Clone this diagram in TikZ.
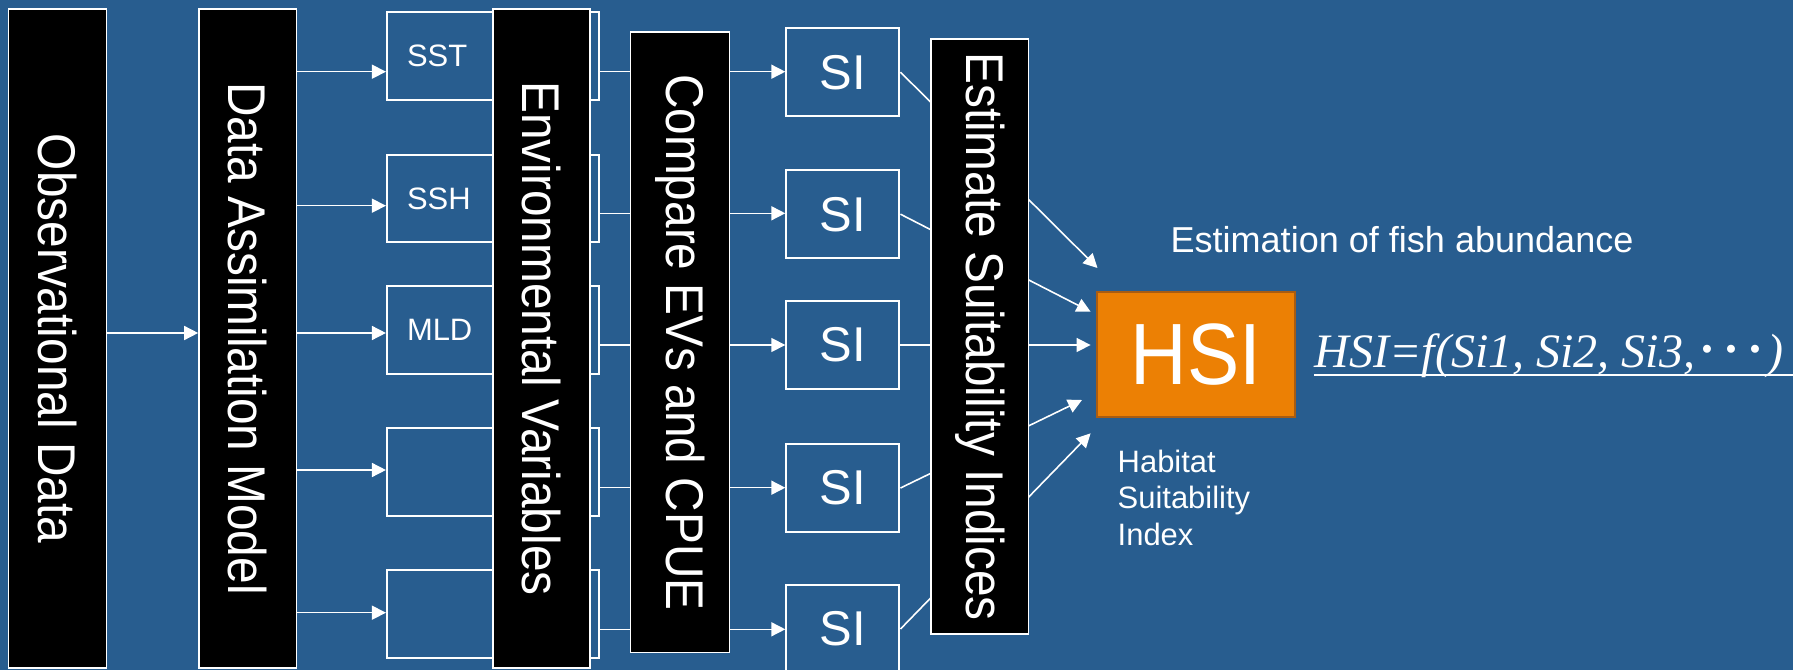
\documentclass[tikz,border=0pt]{standalone}
\usepackage{fontspec}
\setmainfont{Liberation Sans}
\newfontfamily\narrowsans{Liberation Sans}[FakeStretch=0.9]
\newfontfamily\formulafont{Liberation Serif}
\newfontfamily\cjk{Noto Sans CJK JP}
\usepackage{graphicx}
\usetikzlibrary{arrows.meta}
\definecolor{seablue}{RGB}{40,93,143}
\definecolor{hsiorange}{RGB}{236,128,4}
\definecolor{hsiedge}{RGB}{168,92,18}

\begin{document}
\begin{tikzpicture}[x=0.01cm, y=-0.01cm,
  stage/.style={draw=white, fill=black, line width=0.45pt, text=white, minimum width=0.98cm, inner sep=0pt, font=\narrowsans\fontsize{15.1}{18}\selectfont},
  varbox/.style={draw=white, line width=0.6pt, text=white, minimum height=0.877cm, text width=1.723cm, inner xsep=0.2cm, inner ysep=0pt, align=left, font=\fontsize{8.8}{10}\selectfont},
  sibox/.style={draw=white, line width=0.6pt, text=white, minimum width=1.13cm, minimum height=0.88cm, inner sep=0pt, font=\fontsize{13.9}{16}\selectfont},
  flow/.style={draw=white, line width=0.45pt, -{Triangle[length=0.14cm, width=0.14cm]}},
  link/.style={draw=white, line width=0.45pt}
]
\useasboundingbox (0,0) rectangle (1793,670);
\fill[seablue] (0,0) rectangle (1793,670);

% rows of the arrows
\coordinate (a1) at (0,71.7);
\coordinate (a2) at (0,205.7);
\coordinate (a3) at (0,333);
\coordinate (a4) at (0,470);
\coordinate (a5) at (0,612.7);
\coordinate (b1) at (0,71.7);
\coordinate (b2) at (0,213.3);
\coordinate (b3) at (0,345);
\coordinate (b4) at (0,487.7);
\coordinate (b5) at (0,629.3);

\node[stage, minimum height=6.59cm] (obs) at (57.4,338.5) {\rotatebox{-90}{Observational Data}};
\node[stage, minimum height=6.59cm, minimum width=0.976cm] (da) at (247.8,338.5) {\rotatebox{-90}{Data Assimilation Model}};

\draw[flow] (obs.east |- a3) -- (da.west |- a3);

\node[varbox] (v1) at (493.2,56.2) {SST};
\node[varbox] (v2) at (493.2,198.5) {SSH};
\node[varbox] (v3) at (493.2,329.9) {MLD};
\node[varbox] (v4) at (493.2,472.2) {};
\node[varbox] (v5) at (493.2,613.9) {};

\draw[flow] (da.east |- a1) -- (v1.west |- a1);
\draw[flow] (da.east |- a2) -- (v2.west |- a2);
\draw[flow] (da.east |- a3) -- (v3.west |- a3);
\draw[flow] (da.east |- a4) -- (v4.west |- a4);
\draw[flow] (da.east |- a5) -- (v5.west |- a5);

\node[stage, minimum height=6.59cm, minimum width=0.97cm] (ev) at (541.5,338.5) {\rotatebox{-90}{Environmental Variables}};
\node[stage, minimum height=6.20cm, minimum width=0.987cm] (cmp) at (680,342.3) {\rotatebox{-90}{Compare EVs and CPUE}};

\draw[link] (v1.east |- b1) -- (cmp.west |- b1);
\draw[link] (v2.east |- b2) -- (cmp.west |- b2);
\draw[link] (v3.east |- b3) -- (cmp.west |- b3);
\draw[link] (v4.east |- b4) -- (cmp.west |- b4);
\draw[link] (v5.east |- b5) -- (cmp.west |- b5);

\node[sibox] (s1) at (842.9,72.2) {SI};
\node[sibox] (s2) at (842.9,214.2) {SI};
\node[sibox] (s3) at (842.9,345) {SI};
\node[sibox] (s4) at (842.9,488) {SI};
\node[sibox] (s5) at (842.9,629) {SI};

\draw[flow] (cmp.east |- b1) -- (s1.west |- b1);
\draw[flow] (cmp.east |- b2) -- (s2.west |- b2);
\draw[flow] (cmp.east |- b3) -- (s3.west |- b3);
\draw[flow] (cmp.east |- b4) -- (s4.west |- b4);
\draw[flow] (cmp.east |- b5) -- (s5.west |- b5);

\node[draw=hsiedge, fill=hsiorange, line width=0.6pt, minimum width=1.977cm, minimum height=1.25cm, text=white, font=\narrowsans\fontsize{24.75}{28}\selectfont] (hsi) at (1196.2,354.2) {HSI};

\coordinate (h1) at (1097.5,268);
\coordinate (h2) at (1090.6,311.7);
\coordinate (h3) at (1090.6,345);
\coordinate (h4) at (1082,400);
\coordinate (h5) at (1090.6,433.3);

\draw[flow] (s1.east) -- (h1);
\draw[flow] (s2.east) -- (h2);
\draw[flow] (s3.east) -- (h3);
\draw[flow] (s4.east) -- (h4);
\draw[flow] (s5.east) -- (h5);

\node[stage, minimum height=5.95cm, minimum width=0.976cm] (est) at (979.8,336.5) {\rotatebox{-90}{Estimate Suitability Indices}};

\node[text=white, font=\fontsize{10.25}{12}\selectfont] (abund) at (1402,240) {Estimation of fish abundance};
\node[anchor=north west, inner sep=0pt, align=left, text=white, font=\fontsize{8.8}{10.44}\selectfont] (hsiname) at (1117,449) {Habitat\\Suitability\\Index};

\node[anchor=base west, inner sep=0pt, text=white, font=\formulafont\itshape\fontsize{13.65}{16}\selectfont] (fml) at (1314,368) {HSI=f(Si1, Si2, Si3,{\cjk\upshape ･･･})};
\coordinate (rim) at (1793,375);
\draw[white, line width=0.77pt] (fml.base west |- rim) -- (rim);

\end{tikzpicture}
\end{document}
